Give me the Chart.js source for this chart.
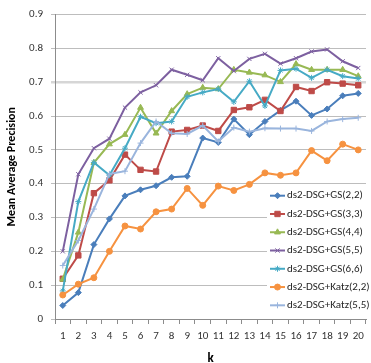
<!DOCTYPE html>
<html>
<head>
<meta charset="utf-8">
<script src="https://cdn.jsdelivr.net/npm/chart.js@4/dist/chart.umd.min.js"></script>
<style>
  html, body { margin: 0; padding: 0; background: #fff; }
  #wrap { position: relative; width: 371px; height: 363px; }
</style>
</head>
<body>
<div id="wrap"><canvas id="map-chart" width="371" height="363"></canvas></div>
<script>
// valores
const kLabels = ['1','2','3','4','5','6','7','8','9','10','11','12','13','14','15','16','17','18','19','20'];
const seriesNames = ['ds2-DSG+GS(2,2)','ds2-DSG+GS(3,3)','ds2-DSG+GS(4,4)','ds2-DSG+GS(5,5)','ds2-DSG+GS(6,6)','ds2-DSG+Katz(2,2)','ds2-DSG+Katz(5,5)'];
const gs22 = [0.040,0.078,0.220,0.296,0.364,0.382,0.394,0.419,0.422,0.535,0.522,0.591,0.545,0.584,0.617,0.644,0.602,0.621,0.660,0.667];
const gs33 = [0.119,0.188,0.372,0.410,0.486,0.441,0.436,0.554,0.559,0.572,0.556,0.618,0.626,0.648,0.615,0.686,0.674,0.700,0.696,0.691];
const gs44 = [0.117,0.256,0.462,0.517,0.545,0.625,0.549,0.615,0.665,0.684,0.680,0.737,0.729,0.721,0.701,0.754,0.737,0.737,0.737,0.718];
const gs55 = [0.200,0.428,0.505,0.533,0.625,0.670,0.691,0.737,0.722,0.706,0.771,0.733,0.769,0.784,0.755,0.771,0.791,0.797,0.762,0.742];
const gs66 = [0.083,0.347,0.463,0.425,0.505,0.598,0.579,0.584,0.657,0.670,0.680,0.642,0.703,0.630,0.735,0.740,0.713,0.737,0.718,0.711];
const katz22 = [0.071,0.103,0.122,0.200,0.275,0.266,0.317,0.325,0.386,0.336,0.393,0.380,0.398,0.432,0.425,0.432,0.498,0.468,0.517,0.500];
const katz55 = [0.158,0.232,0.325,0.429,0.437,0.520,0.584,0.549,0.547,0.572,0.525,0.566,0.554,0.564,0.563,0.563,0.556,0.584,0.591,0.595];

const seriesValues = [gs22, gs33, gs44, gs55, gs66, katz22, katz55];
const colors = ['#4A7EBB','#BE4B48','#98B954','#7D60A0','#46AAC5','#F69240','#9AB5DD'];
const markers = ['rectRot','rect','triangle','crossRot','star','circle','cross'];
const markerSizes = [3, 3.8, 3.4, 3, 3, 3, 3];

const FONT = "Carlito, Lato, 'Liberation Sans', sans-serif";

// leyenda dibujada dentro del area, con fondo blanco
const boxLegend = {
    id: 'boxLegend',
    afterDraw(chart) {
        const ctx = chart.ctx;
        const area = chart.chartArea;
        const left = 267, top = 186;
        ctx.save();
        ctx.fillStyle = '#ffffff';
        ctx.fillRect(left, top, area.right - left + 5, area.bottom - top - 3);
        chart.data.datasets.forEach((ds, i) => {
            const y = 195.7 + i * 18.27;
            ctx.strokeStyle = ds.borderColor;
            ctx.lineWidth = 2;
            ctx.beginPath();
            ctx.moveTo(270, y);
            ctx.lineTo(285, y);
            ctx.stroke();
            ctx.fillStyle = ds.pointBackgroundColor;
            ctx.strokeStyle = ds.pointBorderColor;
            ctx.lineWidth = 1;
            if (Chart.helpers && Chart.helpers.drawPoint) {
                Chart.helpers.drawPoint(ctx, {pointStyle: ds.pointStyle, radius: ds.pointRadius, rotation: 0, borderWidth: 1}, 277.5, y);
            }
            ctx.fillStyle = '#262626';
            ctx.font = '11px ' + FONT;
            ctx.textBaseline = 'middle';
            ctx.textAlign = 'left';
            ctx.fillText(ds.label, 287, y);
        });
        ctx.restore();
    }
};

function buildDatasets() {
    return seriesValues.map((vals, i) => ({
        label: seriesNames[i],
        data: vals,
        borderColor: colors[i],
        backgroundColor: colors[i],
        pointBackgroundColor: colors[i],
        pointBorderColor: colors[i],
        pointStyle: markers[i],
        pointRadius: markerSizes[i],
        pointBorderWidth: 1,
        borderWidth: 2,
        tension: 0,
        order: seriesValues.length - i
    }));
}

function initChart() {
    const ctx = document.querySelector('#map-chart');
    new Chart(ctx, {
        type: 'line',
        data: { labels: kLabels, datasets: buildDatasets() },
        options: {
            responsive: false,
            animation: false,
            layout: { padding: { top: 13, right: -3, left: 0, bottom: 0 } },
            plugins: {
                legend: { display: false },
                tooltip: { enabled: false }
            },
            scales: {
                x: {
                    offset: true,
                    grid: { offset: true, drawOnChartArea: false, drawTicks: true, tickLength: 5, color: '#8C8C8C' },
                    border: { display: true, color: '#8C8C8C' },
                    ticks: { color: '#333', font: { family: FONT, size: 11 }, padding: 6, maxRotation: 0, autoSkip: false },
                    title: { display: true, text: 'k', color: '#000', font: { family: FONT, size: 13, weight: 'bold' }, padding: { top: 0, bottom: -4 } },
                    afterFit(scale) { scale.height = 44; }
                },
                y: {
                    min: 0,
                    max: 0.9,
                    ticks: {
                        stepSize: 0.1,
                        color: '#333',
                        font: { family: FONT, size: 11 },
                        padding: 8,
                        callback: v => v === 0 ? '0' : Number(v).toFixed(1)
                    },
                    grid: {
                        color: c => Math.abs(c.tick.value - 0.7) < 0.001 ? '#D6D6D6' : '#BDBDBD',
                        lineWidth: c => Math.abs(c.tick.value - 0.7) < 0.001 ? 2.5 : 1,
                        tickLength: 4
                    },
                    border: { display: true, color: '#8C8C8C' },
                    title: { display: true, text: 'Mean Average Precision', color: '#000', font: { family: FONT, size: 12, weight: 'bold' }, padding: { top: 5, bottom: 0 } },
                    afterFit(scale) { scale.width = 55; }
                }
            }
        },
        plugins: [boxLegend]
    });
}

document.addEventListener('DOMContentLoaded', () => {
    initChart();
});
</script>
</body>
</html>
